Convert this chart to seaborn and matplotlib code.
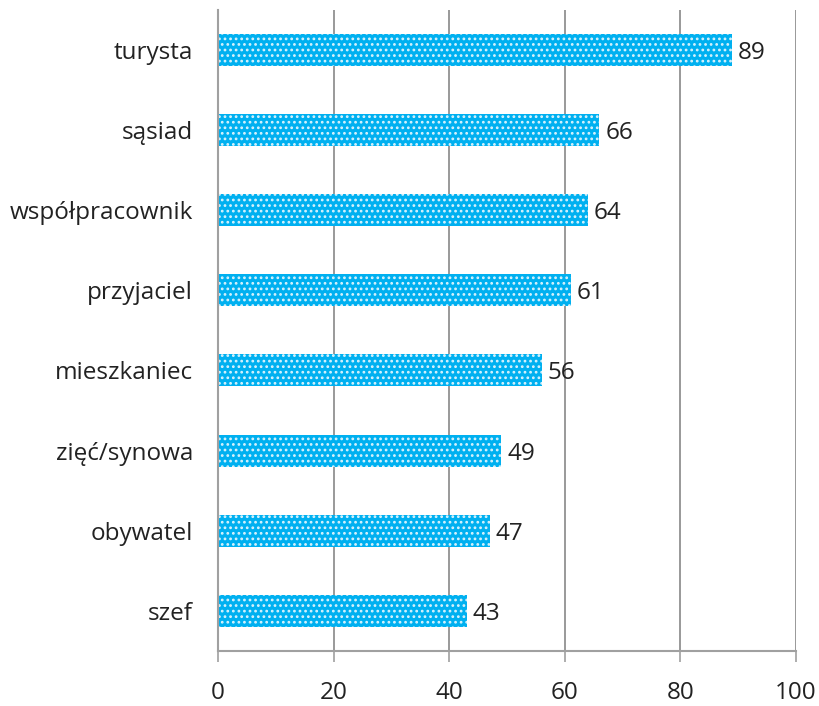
import seaborn as sns
import matplotlib.pyplot as plt
import pandas as pd

# data
categories = ["turysta", "sąsiad", "współpracownik", "przyjaciel",
              "mieszkaniec", "zięć/synowa", "obywatel", "szef"]
values = [89, 66, 64, 61, 56, 49, 47, 43]
xticks = [0, 20, 40, 60, 80, 100]

df = pd.DataFrame({"kategoria": categories, "wartosc": values})

sns.set_style("white")
plt.rcParams["font.family"] = ["Open Sans", "DejaVu Sans"]
plt.rcParams["hatch.linewidth"] = 1.2

fig = plt.figure(figsize=(8.2, 7.06), dpi=100)
ax = fig.add_axes([0.2659, 0.078, 0.7048, 0.908])

sns.barplot(data=df, x="wartosc", y="kategoria", orient="h", ax=ax,
            color="#00B0F0", width=0.4, saturation=1)
for bar in ax.patches:
    bar.set_facecolor("#00B0F0")
    bar.set_edgecolor("#D8F2FC")
    bar.set_hatch("...")
    bar.set_linewidth(0)

# value labels
for i, v in enumerate(values):
    ax.text(v + 1.0, i, str(v), va="center_baseline", ha="left",
            fontsize=17.5, color="#222222")

ax.set_xlim(0, 100)
ax.set_ylim(len(categories) - 0.5, -0.5)
ax.set_xticks(xticks)
ax.xaxis.grid(True, color="#888888", linewidth=1.2)
ax.set_axisbelow(True)
ax.set_xlabel("")
ax.set_ylabel("")

for s in ["top", "right"]:
    ax.spines[s].set_visible(False)
for s in ["left", "bottom"]:
    ax.spines[s].set_color("#A0A0A0")
    ax.spines[s].set_linewidth(1.5)

ax.tick_params(axis="x", length=8, width=1.2, color="#A0A0A0", labelsize=17.5,
               labelcolor="#222222", pad=14, bottom=True)
ax.tick_params(axis="y", length=0, labelsize=17.5, labelcolor="#222222", pad=18)
for lab in ax.get_yticklabels():
    lab.set_verticalalignment("center_baseline")

fig.savefig("out.png", dpi=100)
